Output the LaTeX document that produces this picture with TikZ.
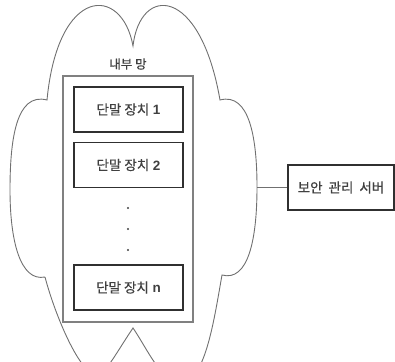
\documentclass[tikz,border=0pt]{standalone}
\usepackage{fontspec}
\setmainfont{Liberation Sans}
\newfontfamily\kr[FakeBold=0.6]{Noto Sans CJK KR}
\newcommand\devlabel[1]{{\kr 단말 장치} \textbf{#1}}
\definecolor{cloudgray}{HTML}{707070}
\definecolor{boxdark}{HTML}{303030}
\definecolor{langray}{HTML}{808080}
\definecolor{txt}{HTML}{404040}
\begin{document}
\begin{tikzpicture}[x=1pt,y=-1pt,
  cloudline/.style={draw=cloudgray,line width=0.9pt},
  devbox/.style={draw=boxdark,line width=1.4pt,minimum width=109pt,minimum height=45pt,inner sep=0pt,
     font=\fontsize{13.5}{16}\selectfont,text=txt},
  lanbox/.style={draw=langray,line width=1.2pt,minimum width=130pt,minimum height=246pt,inner sep=0pt},
  lbl/.style={font=\fontsize{12.5}{15}\selectfont,text=txt,inner sep=0pt},
  dotn/.style={circle,fill=txt,minimum size=2.4pt,inner sep=0pt},
  conn/.style={draw=cloudgray,line width=1.2pt}]
\useasboundingbox (0,0) rectangle (395,361);
\begin{scope}
\clip (0,0) rectangle (395,361);
\draw[cloudline] (45,277) .. controls (20,282) and (10,240) .. (10,190)
  .. controls (10,140) and (16,92) .. (47,100)
  .. controls (58,-15) and (122,-15) .. (133,46)
  .. controls (140,-15) and (200,-15) .. (220,100)
  .. controls (250,92) and (257,140) .. (257,187)
  .. controls (257,240) and (248,282) .. (222,275)
  .. controls (214,320) and (205,384) .. (180,382)
  .. controls (160,380) and (148,350) .. (133,328)
  .. controls (118,350) and (105,375) .. (97,375)
  .. controls (80,375) and (55,315) .. (45,277);
\end{scope}
\coordinate (cloudR) at (257,187.5);
\node[lbl] (net) at (128,64) {\kr 내부 망};
\node[lanbox] (lan) at (128,199) {};
\node[devbox] (dev1) at (128.5,109.5) {\devlabel{1}};
\node[devbox] (dev2) at (128.5,165) {\devlabel{2}};
\node[dotn] (d1) at (128,208) {};
\node[dotn] (d2) at (128,229) {};
\node[dotn] (d3) at (128,250) {};
\node[devbox] (devn) at (128.5,287.5) {\devlabel{n}};
\node[devbox,minimum width=106pt] (server) at (341,187.5) {\kr 보안\hspace{6pt}관리\hspace{6pt}서버};
\draw[conn] (cloudR) -- (server.west);
\end{tikzpicture}
\end{document}
